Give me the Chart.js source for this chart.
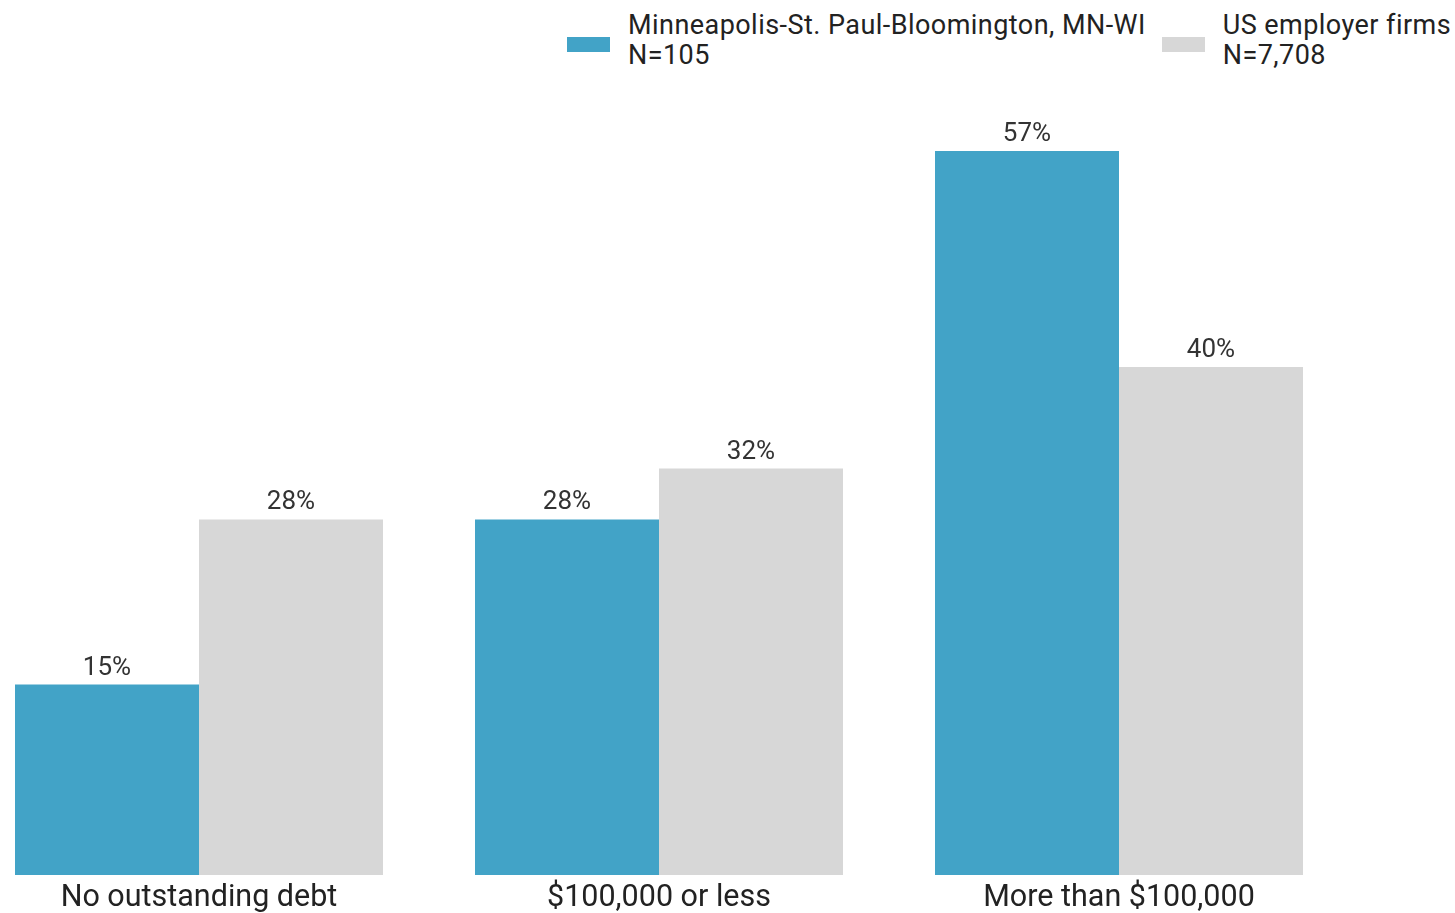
<!DOCTYPE html>
<html>
<head>
<meta charset="utf-8">
<script src="https://cdn.jsdelivr.net/npm/chart.js@4/dist/chart.umd.min.js"></script>
<style>
  html, body { margin: 0; padding: 0; background: #fff; overflow: hidden; }
  body { width: 1455px; height: 913px; position: relative; font-family: Roboto, "Noto Sans", sans-serif; }
  #wrap { position: absolute; left: -31px; top: 0; width: 1380px; height: 913px; }
  #legend { position: absolute; left: 567px; top: 10px; display: flex; color: #222; font-size: 27px; letter-spacing: 0.45px; line-height: 30px; white-space: nowrap; }
  .item { display: flex; align-items: flex-start; margin-right: 16px; }
  .swatch { width: 43px; height: 15px; margin-top: 27px; margin-right: 18px; }
</style>
</head>
<body>
<div id="legend"></div>
<div id="wrap"><canvas id="debtChart"></canvas></div>
<script>
const categories = ['No outstanding debt', '$100,000 or less', 'More than $100,000'];
const seriesNames = [['Minneapolis-St. Paul-Bloomington, MN-WI', 'N=105'], ['US employer firms', 'N=7,708']];
const metroValues = [15, 28, 57];
const usValues = [28, 32, 40];
const colors = ['#42a3c7', '#d7d7d7'];

// value labels above each bar
const barLabels = {
  id: 'barLabels',
  afterDatasetsDraw(chart) {
    const ctx = chart.ctx;
    ctx.save();
    ctx.font = '26px Roboto';
    ctx.fillStyle = '#333';
    ctx.textAlign = 'center';
    ctx.textBaseline = 'alphabetic';
    chart.data.datasets.forEach((ds, i) => {
      chart.getDatasetMeta(i).data.forEach((bar, j) => {
        ctx.fillText(ds.data[j] + '%', bar.x, bar.y - 10);
      });
    });
    ctx.restore();
  }
};

var ctx = document.getElementById('debtChart').getContext('2d');
var debtChart = new Chart(ctx, {
  type: 'bar',
  data: {
    labels: categories,
    datasets: [{
      label: seriesNames[0],
      data: metroValues,
      backgroundColor: colors[0],
      categoryPercentage: 0.8,
      barPercentage: 1.0
    }, {
      label: seriesNames[1],
      data: usValues,
      backgroundColor: colors[1],
      categoryPercentage: 0.8,
      barPercentage: 1.0
    }]
  },
  options: {
    responsive: true,
    maintainAspectRatio: false,
    animation: false,
    layout: { padding: { top: 113, left: 0, right: 0, bottom: 0 } },
    plugins: {
      legend: { display: false },
      tooltip: { enabled: false }
    },
    scales: {
      x: {
        grid: { display: false, drawTicks: false },
        border: { display: false },
        ticks: {
          color: '#222',
          font: { family: 'Roboto', size: 30.5 },
          padding: 5,
          maxRotation: 0,
          autoSkip: false
        },
        afterFit: (axis) => { axis.height = 38; }
      },
      y: {
        display: false,
        min: 0,
        max: 60
      }
    }
  },
  plugins: [barLabels]
});

// html legend built from the datasets
const legend = document.getElementById('legend');
debtChart.data.datasets.forEach((ds) => {
  const item = document.createElement('div');
  item.className = 'item';
  const sw = document.createElement('div');
  sw.className = 'swatch';
  sw.style.background = ds.backgroundColor;
  const txt = document.createElement('div');
  txt.innerHTML = ds.label.join('<br>');
  item.appendChild(sw);
  item.appendChild(txt);
  legend.appendChild(item);
});
</script>
</body>
</html>
